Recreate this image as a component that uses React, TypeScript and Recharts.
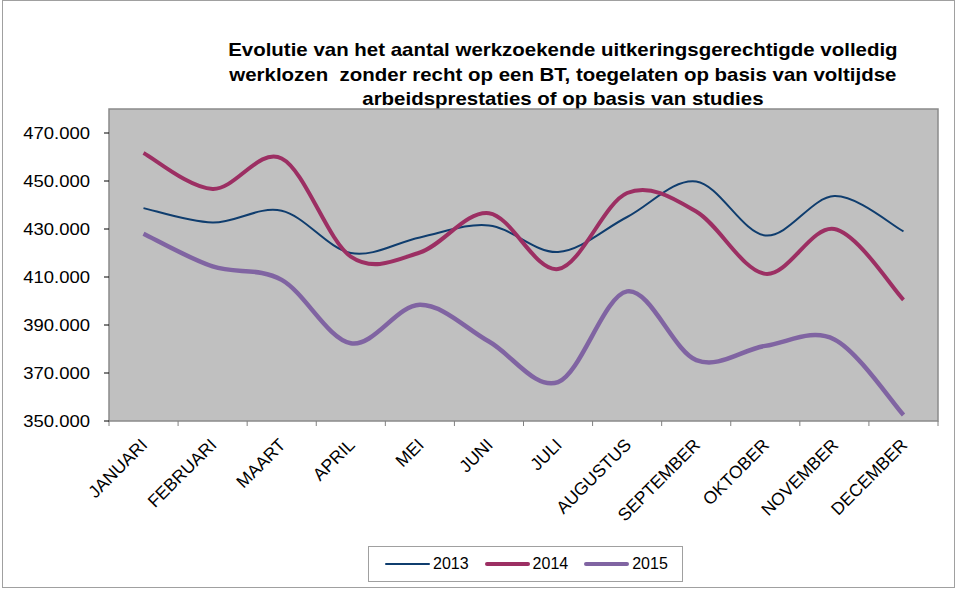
import { Line, LineChart, ReferenceArea, XAxis, YAxis } from "recharts"

const months = [
  "JANUARI",
  "FEBRUARI",
  "MAART",
  "APRIL",
  "MEI",
  "JUNI",
  "JULI",
  "AUGUSTUS",
  "SEPTEMBER",
  "OKTOBER",
  "NOVEMBER",
  "DECEMBER",
]

const values2013 = [438700, 432700, 437600, 420000, 426500, 431500, 420400, 435000, 449800, 427300, 443700, 429000]
const values2014 = [461700, 446700, 459400, 418500, 420200, 436600, 413300, 445000, 437300, 411300, 430000, 400500]
const values2015 = [428000, 414400, 408800, 382400, 398400, 383100, 366200, 404000, 375400, 381300, 384000, 352500]

const yTicks = [350000, 370000, 390000, 410000, 430000, 450000, 470000]
const boundaryTicks = [0, 1, 2, 3, 4, 5, 6, 7, 8, 9, 10, 11, 12]

const titleLines = [
  "Evolutie van het aantal werkzoekende uitkeringsgerechtigde volledig",
  "werklozen  zonder recht op een BT, toegelaten op basis van voltijdse",
  "arbeidsprestaties of op basis van studies",
]

const series = [
  { key: "y2013", name: "2013", color: "#0f3d6e", width: 2 },
  { key: "y2014", name: "2014", color: "#9c2f63", width: 4 },
  { key: "y2015", name: "2015", color: "#8064a2", width: 4.5 },
]

// slot = month index centred in its category band, used by the boundary-tick axis
const data = months.map((month, i) => ({
  month,
  slot: i + 0.5,
  y2013: values2013[i],
  y2014: values2014[i],
  y2015: values2015[i],
}))

const font = "'Liberation Sans', Arial, sans-serif"

// smoothing close to Excel's: Catmull-Rom style bezier segments
function excelSmooth(context: any) {
  let pts: [number, number][] = []
  return {
    areaStart() {},
    areaEnd() {},
    lineStart() {
      pts = []
    },
    lineEnd() {
      if (!pts.length) return
      context.moveTo(pts[0][0], pts[0][1])
      for (let i = 0; i < pts.length - 1; i++) {
        const p0 = pts[Math.max(i - 1, 0)]
        const p1 = pts[i]
        const p2 = pts[i + 1]
        const p3 = pts[Math.min(i + 2, pts.length - 1)]
        context.bezierCurveTo(
          p1[0] + (p2[0] - p0[0]) / 6,
          p1[1] + (p2[1] - p0[1]) / 6,
          p2[0] - (p3[0] - p1[0]) / 6,
          p2[1] - (p3[1] - p1[1]) / 6,
          p2[0],
          p2[1]
        )
      }
    },
    point(x: number, y: number) {
      pts.push([x, y])
    },
  }
}

const formatThousands = (v: number) => String(v / 1000) + ".000"

function MonthTick(props: any) {
  const { x, y, payload } = props
  return (
    <g transform={`translate(${x},${y})`}>
      <text
        x={5}
        y={24}
        transform="rotate(-45 5 24)"
        textAnchor="end"
        fontSize={17.5}
        fontFamily={font}
        fill="#000"
      >
        {payload.value}
      </text>
    </g>
  )
}

// reference text is a bit wider than tall, so stretch horizontally
function ValueTick(props: any) {
  const { x, y, payload } = props
  return (
    <g transform={`translate(${x},${y}) scale(1.12,1)`}>
      <text
        x={0}
        y={0}
        dy="0.36em"
        textAnchor="end"
        fontSize={16.5}
        fontFamily={font}
        fill="#000"
      >
        {formatThousands(payload.value)}
      </text>
    </g>
  )
}

const EmptyTick = () => <g />

export default function App() {
  return (
    <div
      style={{
        position: "absolute",
        left: 0,
        top: 0,
        width: 957,
        height: 590,
        background: "#fff",
        fontFamily: font,
      }}
    >
      <div
        style={{
          position: "absolute",
          left: 2,
          top: 0,
          width: 953,
          height: 588,
          border: "1px solid #a0a0a0",
          boxSizing: "border-box",
        }}
      />
      <div
        style={{
          position: "absolute",
          left: 203,
          top: 38,
          width: 720,
          textAlign: "center",
          fontWeight: "bold",
          fontSize: 18.6,
          lineHeight: "24.5px",
          color: "#000",
          transform: "scaleX(1.1)",
          transformOrigin: "361px 0",
        }}
      >
        {titleLines.map((line) => (
          <div key={line} style={{ whiteSpace: "pre" }}>
            {line}
          </div>
        ))}
      </div>
      <LineChart
        width={957}
        height={590}
        data={data}
        margin={{ top: 109, right: 19, bottom: 49, left: 0 }}
        style={{ position: "absolute", left: 0, top: 0 }}
      >
        <XAxis
          xAxisId="a-ticks"
          type="number"
          dataKey="slot"
          domain={[0, 12]}
          ticks={boundaryTicks}
          interval={0}
          allowDataOverflow
          tick={EmptyTick}
          tickSize={5}
          height={1}
          axisLine={false}
          tickLine={{ stroke: "#808080" }}
        />
        <XAxis
          xAxisId="b-months"
          dataKey="month"
          height={119}
          interval={0}
          padding={{ left: 34.5, right: 34.5 }}
          axisLine={false}
          tickLine={false}
          tickSize={0}
          tickMargin={0}
          tick={<MonthTick />}
        />
        <YAxis
          yAxisId="left"
          domain={[350000, 480000]}
          ticks={yTicks}
          interval={0}
          allowDataOverflow
          width={109}
          tickSize={5}
          tickMargin={14}
          tick={<ValueTick />}
          axisLine={false}
          tickLine={{ stroke: "#000" }}
        />
        <ReferenceArea
          xAxisId="a-ticks"
          yAxisId="left"
          x1={0}
          x2={12}
          y1={350000}
          y2={480000}
          fill="#c0c0c0"
          fillOpacity={1}
          stroke="#8a8a8a"
          strokeWidth={1.5}
        />
        {series.map((s) => (
          <Line
            key={s.key}
            xAxisId="b-months"
            yAxisId="left"
            dataKey={s.key}
            name={s.name}
            type={excelSmooth as any}
            stroke={s.color}
            strokeWidth={s.width}
            dot={false}
            activeDot={false}
            isAnimationActive={false}
          />
        ))}
        <ReferenceArea
          xAxisId="a-ticks"
          yAxisId="left"
          x1={0}
          x2={0}
          y1={350000}
          y2={480000}
          fill="none"
          stroke="#000"
          strokeWidth={1.5}
        />
        <ReferenceArea
          xAxisId="a-ticks"
          yAxisId="left"
          x1={0}
          x2={12}
          y1={350000}
          y2={350000}
          fill="none"
          stroke="#000"
          strokeWidth={1.5}
        />
      </LineChart>
      <div
        style={{
          position: "absolute",
          left: 368,
          top: 546,
          width: 315,
          height: 36,
          border: "1px solid #a0a0a0",
          boxSizing: "border-box",
          display: "flex",
          alignItems: "center",
          paddingLeft: 16,
          fontSize: 16,
          color: "#000",
        }}
      >
        {series.map((s) => (
          <div
            key={s.key}
            style={{ display: "flex", alignItems: "center", marginRight: 16 }}
          >
            <div
              style={{
                width: 45,
                height: s.width,
                background: s.color,
                borderRadius: s.width / 2,
                marginRight: 3,
              }}
            />
            <span>{s.name}</span>
          </div>
        ))}
      </div>
    </div>
  )
}
